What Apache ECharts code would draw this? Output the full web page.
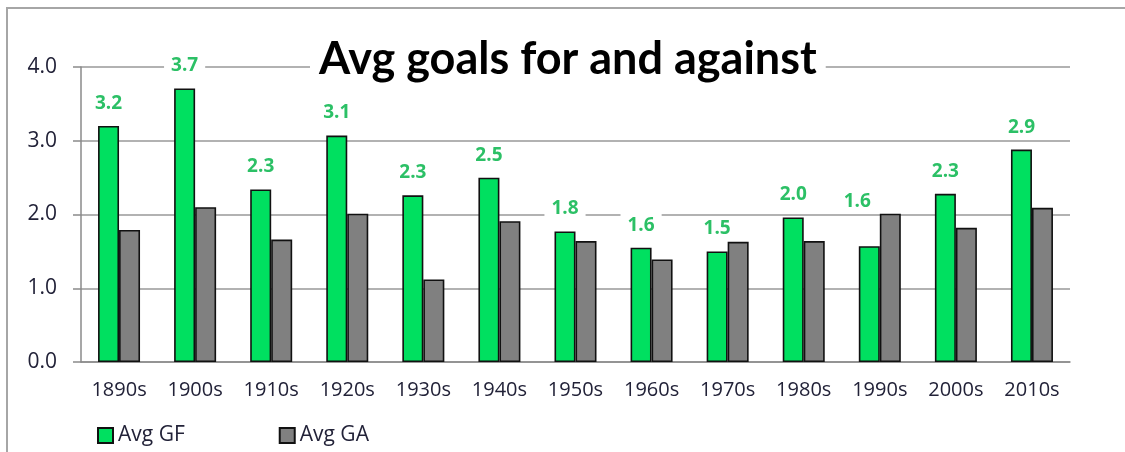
<!DOCTYPE html>
<html>
<head>
<meta charset="utf-8">
<script src="https://cdn.jsdelivr.net/npm/echarts@6/dist/echarts.min.js"></script>
<style>
  html, body { margin: 0; padding: 0; background: #fff; }
  #chart { width: 1125px; height: 452px; }
</style>
</head>
<body>
<div id="chart"></div>
<script>
const decades = ['1890s', '1900s', '1910s', '1920s', '1930s', '1940s', '1950s', '1960s', '1970s', '1980s', '1990s', '2000s', '2010s']
const avgGF = [3.2, 3.71, 2.34, 3.07, 2.26, 2.5, 1.77, 1.55, 1.5, 1.96, 1.57, 2.28, 2.88]
const avgGA = [1.79, 2.1, 1.66, 2.01, 1.12, 1.91, 1.64, 1.39, 1.63, 1.64, 2.01, 1.82, 2.09]

const font = '"Open Sans", Lato, sans-serif'
const titleFont = 'Lato, "Open Sans", sans-serif'
const chart = echarts.init(document.getElementById('chart'))

// the 1990s label was nudged up-left in the original so it clears the taller GA bar
const gfData = avgGF.map((v, i) => decades[i] === '1990s'
  ? { value: v, label: { offset: [-12, -22] } }
  : v)

const option = {
  animation: false,
  textStyle: { fontFamily: font },
  title: {
    text: 'Avg goals for and against',
    left: 310,
    top: 37,
    padding: [0, 9],
    backgroundColor: '#fff',
    textStyle: { fontSize: 45, fontWeight: 'bold', color: '#000', fontFamily: titleFont }
  },
  legend: {
    left: 92,
    top: 420,
    itemWidth: 15,
    itemHeight: 15,
    itemGap: 94,
    icon: 'rect',
    textStyle: { fontSize: 21, color: '#222238', fontFamily: font },
    data: ['Avg GF', 'Avg GA']
  },
  grid: { left: 81, right: 55, top: 67, bottom: 90 },
  xAxis: {
    type: 'category',
    data: decades,
    axisLine: { lineStyle: { color: '#8a8a8a', width: 1.5 } },
    axisTick: { length: 8, lineStyle: { color: '#8a8a8a', width: 1.5 } },
    axisLabel: { fontSize: 20, color: '#222238', margin: 18, fontFamily: font }
  },
  yAxis: {
    type: 'value',
    min: 0,
    max: 4,
    interval: 1,
    axisLine: { show: true, lineStyle: { color: '#8a8a8a', width: 1.5 } },
    axisTick: { show: true, length: 8, lineStyle: { color: '#8a8a8a', width: 1.5 } },
    axisLabel: { fontSize: 21, color: '#222238', margin: 24, fontFamily: font, formatter: v => v.toFixed(1) },
    splitLine: { lineStyle: { color: '#999', width: 1.5 } }
  },
  series: [
    {
      name: 'Avg GF',
      type: 'bar',
      data: gfData,
      barWidth: 21,
      barGap: '0%',
      itemStyle: { color: '#00e060', borderColor: '#111', borderWidth: 1.6 },
      label: {
        show: true,
        position: 'top',
        distance: 11,
        formatter: p => p.value.toFixed(1),
        fontSize: 19,
        fontWeight: 'bold',
        color: '#2cc066',
        backgroundColor: '#fff',
        padding: [2, 7],
        fontFamily: font
      }
    },
    {
      name: 'Avg GA',
      type: 'bar',
      data: avgGA,
      barWidth: 21,
      itemStyle: { color: '#808080', borderColor: '#111', borderWidth: 1.6 }
    }
  ],
  graphic: [{
    type: 'rect',
    silent: true,
    shape: { x: 7, y: 8, width: 1200, height: 600 },
    style: { fill: 'none', stroke: '#a6a6a6', lineWidth: 2 }
  }]
}

chart.setOption(option)
window.addEventListener('resize', () => chart.resize())
</script>
</body>
</html>
